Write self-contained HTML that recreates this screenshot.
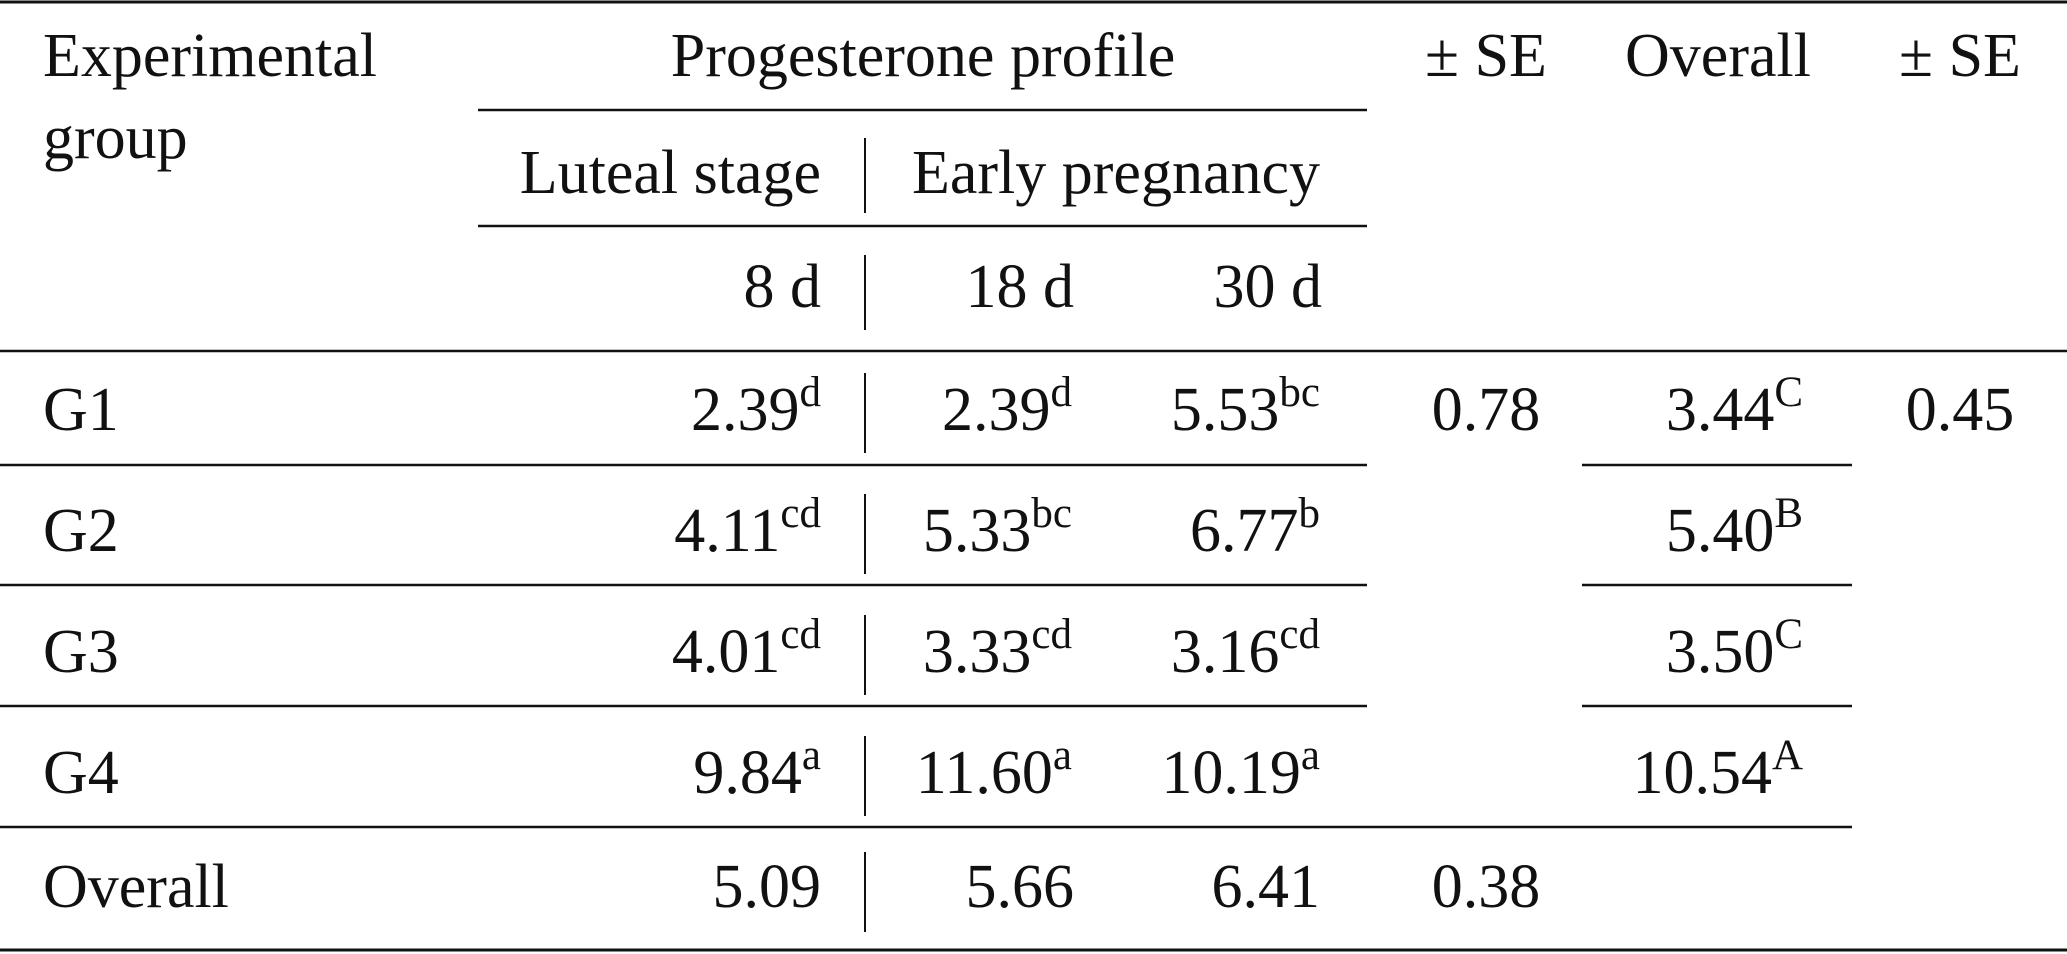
<!DOCTYPE html>
<html><head><meta charset="utf-8"><style>
html,body{margin:0;padding:0;background:#fff;}
svg{display:block;}
text{font-family:"Liberation Serif",serif;font-size:62px;fill:#111;}
.s{font-size:43px;}
</style></head><body>
<svg width="2067" height="954" viewBox="0 0 2067 954" xmlns="http://www.w3.org/2000/svg">
<g stroke="#111">
<line x1="0" y1="2" x2="2067" y2="2" stroke-width="3"/>
<line x1="478" y1="110" x2="1367" y2="110" stroke-width="2.5"/>
<line x1="478" y1="226" x2="1367" y2="226" stroke-width="2.5"/>
<line x1="0" y1="351" x2="2067" y2="351" stroke-width="2.5"/>
<line x1="0" y1="465" x2="1367" y2="465" stroke-width="2.5"/>
<line x1="1582" y1="465" x2="1852" y2="465" stroke-width="2.5"/>
<line x1="0" y1="585" x2="1367" y2="585" stroke-width="2.5"/>
<line x1="1582" y1="585" x2="1852" y2="585" stroke-width="2.5"/>
<line x1="0" y1="706" x2="1367" y2="706" stroke-width="2.5"/>
<line x1="1582" y1="706" x2="1852" y2="706" stroke-width="2.5"/>
<line x1="0" y1="827" x2="1852" y2="827" stroke-width="2.5"/>
<line x1="0" y1="950" x2="2067" y2="950" stroke-width="3"/>
<g stroke-width="2">
<line x1="865" y1="138" x2="865" y2="213"/>
<line x1="865" y1="255" x2="865" y2="330"/>
<line x1="865" y1="373" x2="865" y2="453"/>
<line x1="865" y1="494" x2="865" y2="574"/>
<line x1="865" y1="615" x2="865" y2="695"/>
<line x1="865" y1="736" x2="865" y2="816"/>
<line x1="865" y1="852" x2="865" y2="932"/>
</g>
</g>
<text x="43" y="76">Experimental</text>
<text x="43" y="158">group</text>
<text x="923" y="76" text-anchor="middle">Progesterone profile</text>
<text x="1486" y="76" text-anchor="middle">± SE</text>
<text x="1718" y="76" text-anchor="middle">Overall</text>
<text x="1960" y="76" text-anchor="middle">± SE</text>
<text x="821" y="193" text-anchor="end">Luteal stage</text>
<text x="1116" y="193" text-anchor="middle">Early pregnancy</text>
<text x="821" y="307" text-anchor="end">8 d</text>
<text x="1074" y="307" text-anchor="end">18 d</text>
<text x="1322" y="307" text-anchor="end">30 d</text>

<text x="43" y="430">G1</text>
<text x="821" y="430" text-anchor="end">2.39<tspan class="s" dy="-24">d</tspan></text>
<text x="1072" y="430" text-anchor="end">2.39<tspan class="s" dy="-24">d</tspan></text>
<text x="1320" y="430" text-anchor="end">5.53<tspan class="s" dy="-24">bc</tspan></text>
<text x="1486" y="430" text-anchor="middle">0.78</text>
<text x="1803" y="430" text-anchor="end">3.44<tspan class="s" dy="-24">C</tspan></text>
<text x="1960" y="430" text-anchor="middle">0.45</text>

<text x="43" y="551">G2</text>
<text x="821" y="551" text-anchor="end">4.11<tspan class="s" dy="-24">cd</tspan></text>
<text x="1072" y="551" text-anchor="end">5.33<tspan class="s" dy="-24">bc</tspan></text>
<text x="1320" y="551" text-anchor="end">6.77<tspan class="s" dy="-24">b</tspan></text>
<text x="1803" y="551" text-anchor="end">5.40<tspan class="s" dy="-24">B</tspan></text>

<text x="43" y="672">G3</text>
<text x="821" y="672" text-anchor="end">4.01<tspan class="s" dy="-24">cd</tspan></text>
<text x="1072" y="672" text-anchor="end">3.33<tspan class="s" dy="-24">cd</tspan></text>
<text x="1320" y="672" text-anchor="end">3.16<tspan class="s" dy="-24">cd</tspan></text>
<text x="1803" y="672" text-anchor="end">3.50<tspan class="s" dy="-24">C</tspan></text>

<text x="43" y="793">G4</text>
<text x="821" y="793" text-anchor="end">9.84<tspan class="s" dy="-24">a</tspan></text>
<text x="1072" y="793" text-anchor="end">11.60<tspan class="s" dy="-24">a</tspan></text>
<text x="1320" y="793" text-anchor="end">10.19<tspan class="s" dy="-24">a</tspan></text>
<text x="1803" y="793" text-anchor="end">10.54<tspan class="s" dy="-24">A</tspan></text>

<text x="43" y="907">Overall</text>
<text x="821" y="907" text-anchor="end">5.09</text>
<text x="1074" y="907" text-anchor="end">5.66</text>
<text x="1320" y="907" text-anchor="end">6.41</text>
<text x="1486" y="907" text-anchor="middle">0.38</text>
</svg>
</body></html>
